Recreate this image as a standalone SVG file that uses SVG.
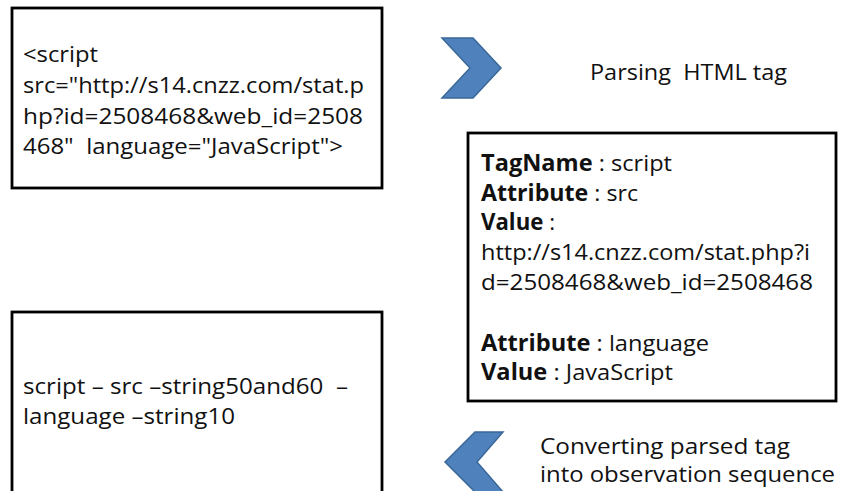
<svg xmlns="http://www.w3.org/2000/svg" width="841" height="491" viewBox="0 0 841 491">
  <style>
    .box { fill: #ffffff; stroke: #000000; stroke-width: 2.8; }
    .t { font-family: "Open Sans", "Noto Sans", "Liberation Sans", sans-serif; font-size: 22.5px; fill: #111111; }
    .b { font-weight: bold; }
    .chev { fill: #4F81BD; stroke: #3A6898; stroke-width: 1.5; stroke-linejoin: miter; }
  </style>
  <rect width="841" height="491" fill="#ffffff"/>

  <!-- raw HTML tag -->
  <g id="html-tag">
    <rect class="box" x="12" y="8" width="370" height="180"/>
    <text class="t" x="23" y="62" textLength="75" lengthAdjust="spacingAndGlyphs">&lt;script</text>
    <text class="t" x="23" y="93" textLength="341" lengthAdjust="spacingAndGlyphs">src="http://s14.cnzz.com/stat.p</text>
    <text class="t" x="23" y="124" textLength="340" lengthAdjust="spacingAndGlyphs">hp?id=2508468&amp;web_id=2508</text>
    <text class="t" x="23" y="154" textLength="320" lengthAdjust="spacingAndGlyphs" xml:space="preserve">468"  language="JavaScript"&gt;</text>
  </g>

  <!-- parsed tag fields -->
  <g id="parsed-tag">
    <rect class="box" x="468" y="133" width="368" height="268"/>
    <text class="t" x="481" y="171" textLength="191" lengthAdjust="spacingAndGlyphs"><tspan class="b">TagName</tspan> : script</text>
    <text class="t" x="481" y="201" textLength="157" lengthAdjust="spacingAndGlyphs"><tspan class="b">Attribute</tspan> : src</text>
    <text class="t" x="481" y="230" textLength="74" lengthAdjust="spacingAndGlyphs"><tspan class="b">Value</tspan> :</text>
    <text class="t" x="481" y="260" textLength="329" lengthAdjust="spacingAndGlyphs">http://s14.cnzz.com/stat.php?i</text>
    <text class="t" x="481" y="290" textLength="332" lengthAdjust="spacingAndGlyphs">d=2508468&amp;web_id=2508468</text>
    <text class="t" x="481" y="351" textLength="228" lengthAdjust="spacingAndGlyphs"><tspan class="b">Attribute</tspan> : language</text>
    <text class="t" x="481" y="380" textLength="192" lengthAdjust="spacingAndGlyphs"><tspan class="b">Value</tspan> : JavaScript</text>
  </g>

  <!-- observation sequence -->
  <g id="observation-sequence">
    <rect class="box" x="12" y="312" width="370" height="190"/>
    <text class="t" x="23" y="394" textLength="325" lengthAdjust="spacingAndGlyphs" xml:space="preserve">script – src –string50and60  –</text>
    <text class="t" x="23" y="424" textLength="212" lengthAdjust="spacingAndGlyphs">language –string10</text>
  </g>

  <!-- step arrows -->
  <g id="connectors">
    <polygon class="chev" points="442,38 473,38 501,68 473,98 442,98 470,68"/>
    <polygon class="chev" points="503,432 475,432 445,462 475,492 503,492 477,462"/>
  </g>

  <g id="step-parse">
    <text class="t" x="590" y="80" textLength="197" lengthAdjust="spacingAndGlyphs" xml:space="preserve">Parsing  HTML tag</text>
  </g>

  <g id="step-convert">
    <text class="t" x="540" y="454" textLength="250" lengthAdjust="spacingAndGlyphs">Converting parsed tag</text>
    <text class="t" x="540" y="482" textLength="295" lengthAdjust="spacingAndGlyphs">into observation sequence</text>
  </g>
</svg>
